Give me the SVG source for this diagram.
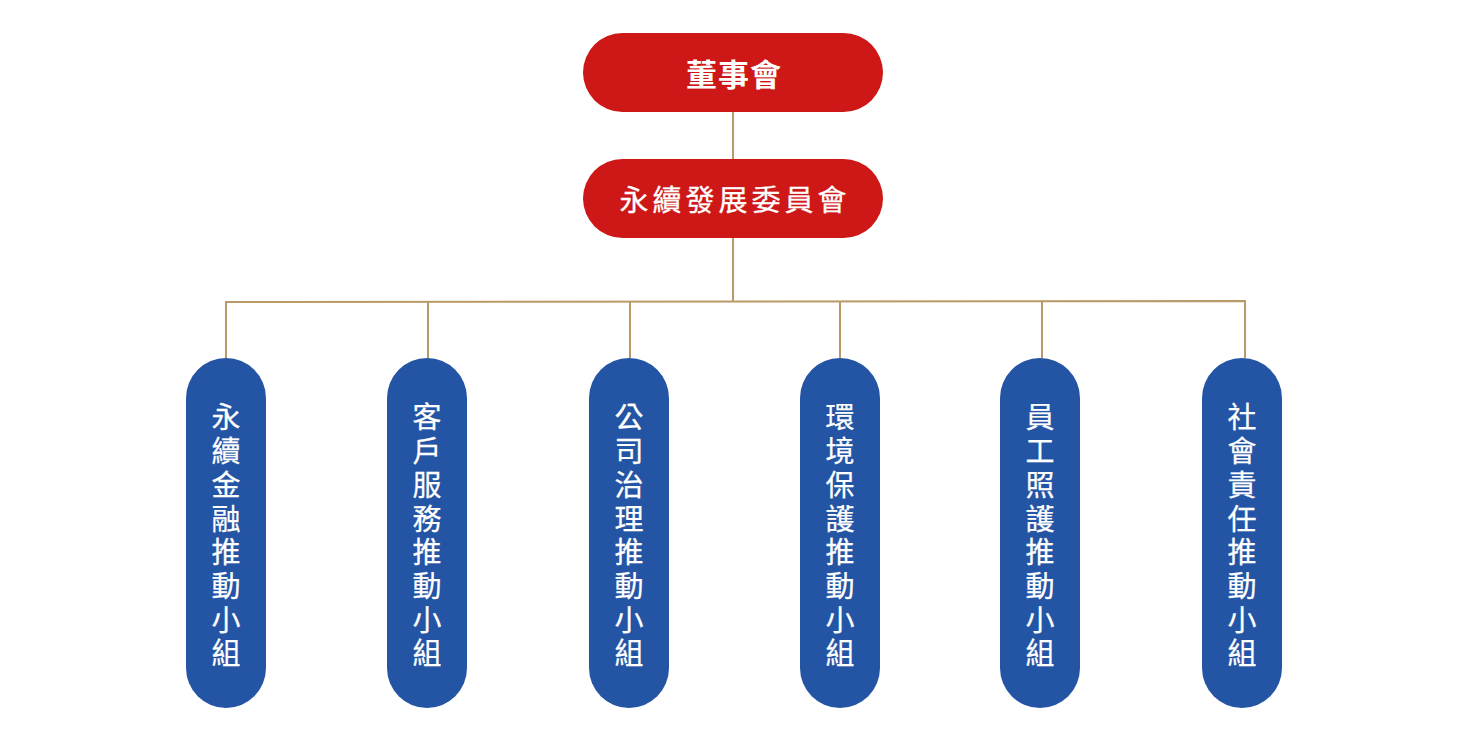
<svg xmlns="http://www.w3.org/2000/svg" width="1465" height="750" viewBox="0 0 1465 750">
<style>
.red{fill:#CD1817}
.blue{fill:#2454A4}
.t{fill:#fff;font-family:"Noto Sans CJK TC","Noto Sans CJK SC",sans-serif;text-anchor:middle;dominant-baseline:central}
.h{font-size:31px;font-weight:700;letter-spacing:1px}
.h2{font-size:29px;font-weight:400;letter-spacing:4px;stroke:#fff;stroke-width:0.3px}
.v{font-size:29px;font-weight:400;stroke:#fff;stroke-width:0.25px}
.c{stroke:#B99A66;stroke-width:2;fill:none}
</style>
<rect width="1465" height="750" fill="#fff"/>
<g id="connectors">
<line class="c" x1="733" y1="112" x2="733" y2="159"/>
<line class="c" x1="733" y1="238" x2="733" y2="301.5"/>
<polyline class="c" points="226,358 226,302 1245,301 1245,358"/>
<line class="c" x1="428" y1="301.8" x2="428" y2="358"/>
<line class="c" x1="630" y1="301.6" x2="630" y2="358"/>
<line class="c" x1="840" y1="301.4" x2="840" y2="358"/>
<line class="c" x1="1042" y1="301.2" x2="1042" y2="358"/>
</g>
<g id="board">
<rect class="red" x="583" y="33" width="300" height="79" rx="39.5"/>
<text class="t h" x="734" y="72">董事會</text>
</g>
<g id="committee">
<rect class="red" x="583" y="159" width="300" height="79" rx="39.5"/>
<text class="t h2" x="735" y="198">永續發展委員會</text>
</g>
<g id="g1">
<rect class="blue" x="186" y="358" width="80" height="350" rx="40"/>
<text class="t v" x="226"><tspan x="226" y="415">永</tspan><tspan x="226" y="449">續</tspan><tspan x="226" y="483">金</tspan><tspan x="226" y="517">融</tspan><tspan x="226" y="550">推</tspan><tspan x="226" y="584">動</tspan><tspan x="226" y="618">小</tspan><tspan x="226" y="651">組</tspan></text>
</g>
<g id="g2">
<rect class="blue" x="387" y="358" width="80" height="350" rx="40"/>
<text class="t v" x="427"><tspan x="427" y="415">客</tspan><tspan x="427" y="449">戶</tspan><tspan x="427" y="483">服</tspan><tspan x="427" y="517">務</tspan><tspan x="427" y="550">推</tspan><tspan x="427" y="584">動</tspan><tspan x="427" y="618">小</tspan><tspan x="427" y="651">組</tspan></text>
</g>
<g id="g3">
<rect class="blue" x="589" y="358" width="80" height="350" rx="40"/>
<text class="t v" x="629"><tspan x="629" y="415">公</tspan><tspan x="629" y="449">司</tspan><tspan x="629" y="483">治</tspan><tspan x="629" y="517">理</tspan><tspan x="629" y="550">推</tspan><tspan x="629" y="584">動</tspan><tspan x="629" y="618">小</tspan><tspan x="629" y="651">組</tspan></text>
</g>
<g id="g4">
<rect class="blue" x="800" y="358" width="80" height="350" rx="40"/>
<text class="t v" x="840"><tspan x="840" y="415">環</tspan><tspan x="840" y="449">境</tspan><tspan x="840" y="483">保</tspan><tspan x="840" y="517">護</tspan><tspan x="840" y="550">推</tspan><tspan x="840" y="584">動</tspan><tspan x="840" y="618">小</tspan><tspan x="840" y="651">組</tspan></text>
</g>
<g id="g5">
<rect class="blue" x="1000" y="358" width="80" height="350" rx="40"/>
<text class="t v" x="1040"><tspan x="1040" y="415">員</tspan><tspan x="1040" y="449">工</tspan><tspan x="1040" y="483">照</tspan><tspan x="1040" y="517">護</tspan><tspan x="1040" y="550">推</tspan><tspan x="1040" y="584">動</tspan><tspan x="1040" y="618">小</tspan><tspan x="1040" y="651">組</tspan></text>
</g>
<g id="g6">
<rect class="blue" x="1202" y="358" width="80" height="350" rx="40"/>
<text class="t v" x="1242"><tspan x="1242" y="415">社</tspan><tspan x="1242" y="449">會</tspan><tspan x="1242" y="483">責</tspan><tspan x="1242" y="517">任</tspan><tspan x="1242" y="550">推</tspan><tspan x="1242" y="584">動</tspan><tspan x="1242" y="618">小</tspan><tspan x="1242" y="651">組</tspan></text>
</g>
</svg>
